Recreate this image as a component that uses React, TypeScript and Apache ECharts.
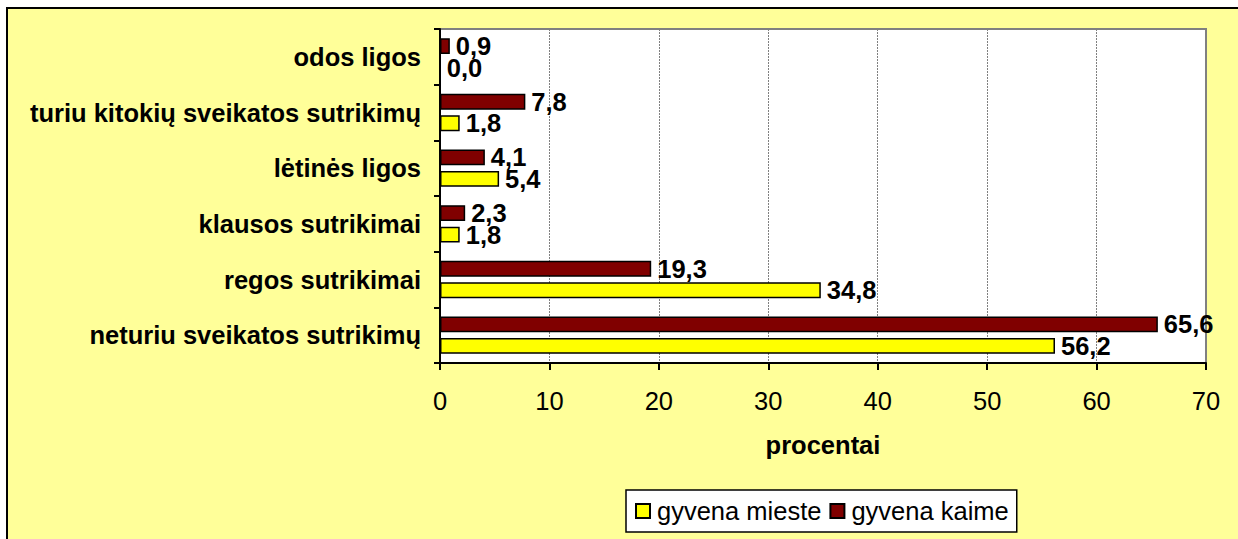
import React, { useEffect, useRef } from "react";
import * as echarts from "echarts";

const categories = [
  "neturiu sveikatos sutrikimų",
  "regos sutrikimai",
  "klausos sutrikimai",
  "lėtinės ligos",
  "turiu kitokių sveikatos sutrikimų",
  "odos ligos",
];
const mieste = [56.2, 34.8, 1.8, 5.4, 1.8, 0.0];
const kaime = [65.6, 19.3, 2.3, 4.1, 7.8, 0.9];
const xTicks = { min: 0, max: 70, interval: 10 };

const FONT = 'Arial, "Liberation Sans", sans-serif';
const FS = 25.5;

const fmt = (p: any) => Number(p.value).toFixed(1).replace(".", ",");

export default function App() {
  const ref = useRef<HTMLDivElement>(null);
  useEffect(() => {
    if (!ref.current) return;
    const chart = echarts.init(ref.current, undefined, { renderer: "svg" });
    const label = {
      show: true,
      position: "right",
      distance: 6,
      formatter: fmt,
      fontFamily: FONT,
      fontWeight: "bold",
      fontSize: FS,
      color: "#000",
    };
    chart.setOption({
      animation: false,
      backgroundColor: "#ffffff",
      textStyle: { fontFamily: FONT },
      graphic: [
        {
          type: "rect",
          z: -10,
          shape: { x: 7, y: 8, width: 1250, height: 550 },
          style: { fill: "#FFFF99", stroke: "#000", lineWidth: 2 },
          silent: true,
        },
      ],
      grid: {
        left: 440,
        top: 29,
        width: 766,
        height: 334,
        show: true,
        backgroundColor: "#ffffff",
        borderColor: "#808080",
        borderWidth: 2,
      },
      legend: {
        left: 626,
        top: 490,
        orient: "horizontal",
        icon: "rect",
        itemWidth: 14,
        itemHeight: 14,
        itemGap: 8,
        padding: [8, 8, 8, 9],
        backgroundColor: "#ffffff",
        borderColor: "#000",
        borderWidth: 1.5,
        textStyle: { fontFamily: FONT, fontSize: FS, color: "#000", padding: [0, 0, 0, 2] },
        data: ["gyvena mieste", "gyvena kaime"],
      },
      xAxis: {
        type: "value",
        min: xTicks.min,
        max: xTicks.max,
        interval: xTicks.interval,
        name: "procentai",
        nameLocation: "middle",
        nameGap: 69,
        nameTextStyle: { fontFamily: FONT, fontWeight: "bold", fontSize: FS, color: "#000" },
        axisLine: { show: true, lineStyle: { color: "#000", width: 2 } },
        axisTick: { show: true, length: 7, lineStyle: { color: "#000", width: 2 } },
        axisLabel: { fontFamily: FONT, fontSize: FS, color: "#000", margin: 25 },
        splitLine: { show: true, lineStyle: { color: "#808080", width: 1, type: [2, 1] } },
      },
      yAxis: {
        type: "category",
        data: categories,
        axisLine: { show: true, lineStyle: { color: "#000", width: 2 } },
        axisTick: { show: true, length: 6, lineStyle: { color: "#000", width: 2 } },
        axisLabel: { fontFamily: FONT, fontWeight: "bold", fontSize: FS, color: "#000", margin: 19 },
        splitLine: { show: false },
      },
      series: [
        {
          name: "gyvena kaime",
          type: "bar",
          data: kaime,
          barGap: "36%",
          barCategoryGap: "33%",
          itemStyle: { color: "#800000", borderColor: "#000", borderWidth: 1.5 },
          label,
        },
        {
          name: "gyvena mieste",
          type: "bar",
          data: mieste,
          barGap: "36%",
          barCategoryGap: "33%",
          itemStyle: { color: "#FFFF00", borderColor: "#000", borderWidth: 1.5 },
          label,
        },
      ],
    });
    return () => chart.dispose();
  }, []);
  return (
    <div
      ref={ref}
      style={{ position: "absolute", left: 0, top: 0, width: 1238, height: 539 }}
    />
  );
}
